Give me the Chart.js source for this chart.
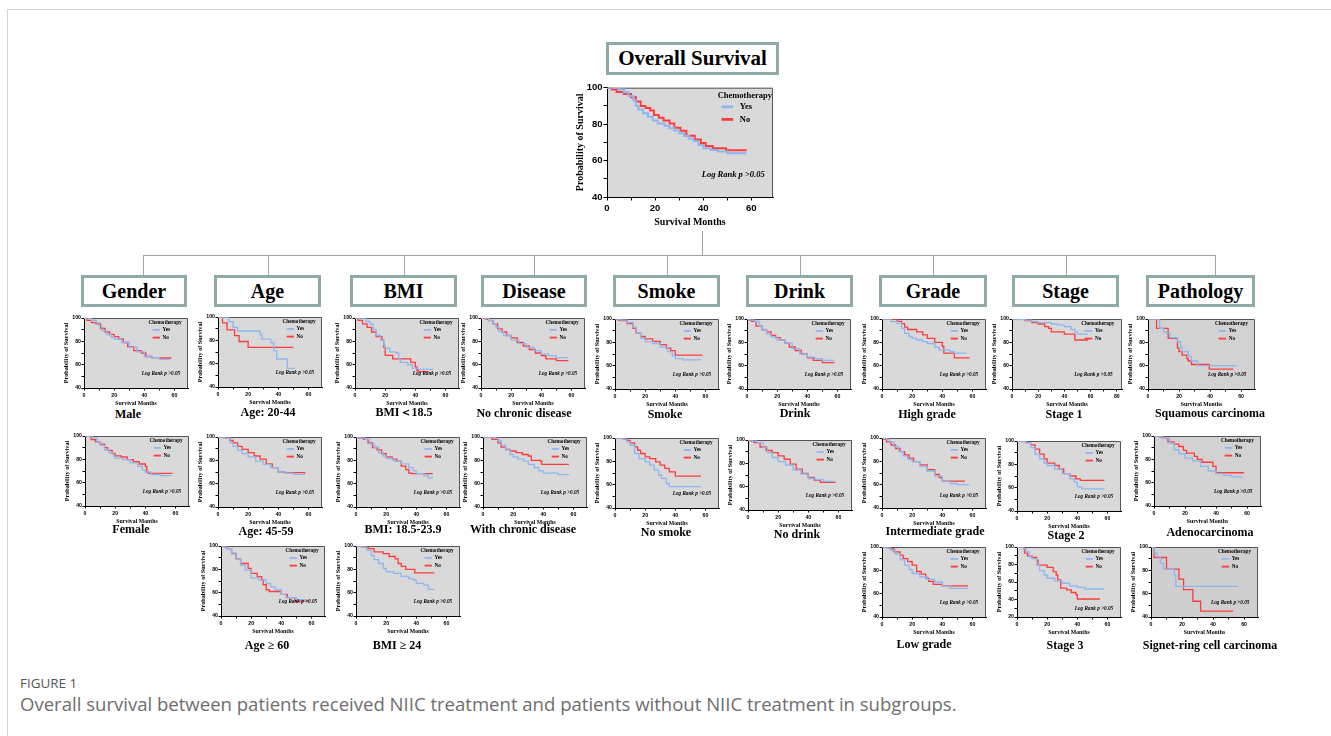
<!DOCTYPE html>
<html>
<head>
<meta charset="utf-8">
<script src="https://cdn.jsdelivr.net/npm/chart.js"></script>
<style>
body{margin:0;width:1331px;height:736px;background:#fff;position:relative;overflow:hidden;font-family:"Liberation Serif","Times New Roman",serif}
#frame{position:absolute;left:7px;top:9px;width:1340px;height:740px;border-left:1px solid #d4d4d4;border-top:1px solid #d4d4d4}
.box{position:absolute;top:275px;height:32px;border:3px solid #8fa9a6;box-sizing:border-box;display:flex;align-items:center;justify-content:center;font-weight:bold;font-size:20px;color:#000;background:#fff}
.sub{position:absolute;transform:translate(-50%,-50%);font-weight:bold;font-size:12px;line-height:1;white-space:nowrap;color:#000}
.ln{position:absolute;background:#a3a3a3}
canvas{position:absolute}
.cap{position:absolute;left:20px;font-family:"Open Sans","Noto Sans",sans-serif;white-space:nowrap;line-height:1}
</style>
</head>
<body>
<div id="frame"></div>
<script>
// survival curves, [month, % surviving]
var overallYes = [[0,100],[5,99],[7,97.5],[9,95.5],[11,93],[12,90],[13,88],[15,86],[17,84],[19,82],[21,80.4],[24,79],[26,77.8],[28,76.5],[30,75],[32,73.5],[34,72],[36,70.6],[38,68.5],[40,66.7],[43,65.8],[46,65],[50,64],[58,64]];
var overallNo = [[0,100],[2,99],[4,97.7],[7,96.5],[10,94.7],[12,92.4],[14,90],[16,88.8],[18,87.5],[19.5,85],[21.5,83.5],[23.5,82],[26,80.4],[28,78],[30.5,76.3],[33,73.6],[36.5,71.5],[39,69.7],[41,68],[44,66.7],[49.5,65.7],[58,65.7]];

var maleYes = [[0,100],[5,98],[8,96],[10,93.4],[12,89],[15,85.7],[18,83.5],[20,82],[25,79],[30,75],[35,71],[40,67],[45,66],[50,64.6],[57,64.6]];
var maleNo = [[0,100],[2,98],[5,96],[8,95],[11,91],[14,88],[17,86],[20,84],[23,82],[26,79],[29,75.4],[33,72],[38,70],[41,67],[45,66],[50,65.7],[58,65.7]];
var femaleYes = [[0,100],[5,98],[8,95],[10,92],[13,88],[16,85.4],[19,82.6],[20,81],[25,79.7],[30,77],[35,74],[38,71],[40,69],[44,67],[50,66],[57,66]];
var femaleNo = [[0,100],[4,97],[7,95],[10,93],[13,90],[15,87.6],[18,85],[20,83],[24,82],[28,79.7],[32,78],[36,76],[40,74],[41,69],[42,68],[58,68]];

var age2044Yes = [[0,100],[7,96],[10,91],[13,88],[28,85],[29,81],[35,78],[37,71],[39,64],[46,56],[51,56]];
var age2044No = [[0,100],[3,95],[6,89],[11,84],[14,79],[20,74],[50,74]];
var age4559Yes = [[0,100],[4,99],[8,95],[10,92],[13,88.6],[16,85.7],[20,83],[25,79.4],[30,76.6],[35,73.7],[40,70],[45,69],[50,68],[58,68]];
var age4559No = [[0,100],[3,99.5],[5,99],[8,97],[10,95],[13,92],[16,89.4],[20,86.6],[24,83.7],[28,81],[32,77],[36,73.7],[40,70],[44,69.5],[58,69.5]];
var age60Yes = [[0,100],[2,99],[4,97.7],[7,94],[10,89],[13,83.6],[16,79.4],[20,72.4],[25,71],[30,68],[33,65],[36,62.5],[40,58.6],[43,55.8],[50,54],[55,52.7],[57,52.7]];
var age60No = [[0,100],[2,99],[4,97.7],[7,93.5],[10,89],[13,85],[18,80.8],[20,76.6],[24,73.8],[27,71],[28,66.8],[30,62.5],[32,61],[40,58.6],[44,55.8],[49,52.7],[58,52.7]];

var bmiLowYes = [[0,100],[7,97],[10,94.7],[12,90],[14,85],[17,81],[19,77],[20,74],[23,71],[27,70],[29,65],[30,62],[35,60],[38,57],[42,56],[52,56]];
var bmiLowNo = [[0,100],[2,98],[5,95],[8,92],[11,88],[14,84],[18,81],[19,75],[20,68],[25,65],[37,62],[40,58],[41,55],[42,54],[49,54]];
var bmiMidYes = [[0,100],[3,99],[6,98],[9,94],[12,91],[15,86.6],[18,83.7],[20,81.7],[25,79.4],[30,77],[35,73.7],[38,71],[40,68.6],[45,67],[48,65],[51,65]];
var bmiMidNo = [[0,100],[2,99],[5,98],[8,95],[11,91],[14,89],[17,85.7],[20,83],[24,81],[27,79.4],[30,75],[33,72],[35,69],[37,68.6],[51,68.6]];
var bmiHighYes = [[0,100],[3,99],[7,96.3],[10,92],[12,88.3],[15,85],[18,80.7],[20,78],[25,76.5],[30,74],[35,72],[38,70.7],[40,68],[45,66.5],[48,62.8],[52,62.8]];
var bmiHighNo = [[0,100],[5,99],[8,97.7],[12,95],[18,93.5],[22,91],[26,89],[28,85],[30,82.6],[33,80],[39,77],[52,77]];

var noDisYes = [[0,100],[5,98],[8,95],[10,92],[12,88.6],[15,85],[20,81],[25,78],[30,75],[35,72],[40,69],[45,67.7],[50,66],[58,66]];
var noDisNo = [[0,100],[3,99],[5,97.7],[8,95],[11,90.6],[14,88],[17,85],[20,83],[24,79],[28,76],[32,73],[36,70],[40,67.7],[43,65],[50,63.4],[58,63.4]];
var withDisYes = [[0,100],[8,99],[10,97],[12,93],[15,89],[18,85],[20,83],[23,81],[27,79.4],[30,76.6],[34,73.7],[37,71],[40,69],[50,67.7],[57,67.7]];
var withDisNo = [[0,100],[6,98],[10,95],[12,91.4],[15,89.4],[18,88],[22,86.6],[26,85],[30,83.7],[32,80],[38,79.4],[39,76.6],[57,76.6]];

var smokeYes = [[0,100],[4,99],[8,97],[12,93],[14,88],[17,83.4],[20,80.6],[25,79],[30,76],[35,72],[38,68.6],[40,66],[45,65],[57,65]];
var smokeNo = [[0,100],[2,99],[4,98.6],[8,96],[12,92],[14,88],[17,85],[20,83],[25,80.9],[30,78],[34,75],[37,72.9],[40,69],[58,69]];
var noSmokeYes = [[0,100],[5,99],[8,96.6],[10,93.8],[13,86.7],[16,82.4],[20,79.6],[23,76.8],[26,72.5],[29,68.3],[31,65.4],[34,61],[36,58.4],[57,58.4]];
var noSmokeNo = [[0,100],[6,99],[8,98],[10,95.8],[13,92.4],[15,89.5],[17,86.7],[20,83.9],[23,82.4],[27,79.6],[30,76.8],[33,73.9],[36,71],[40,67.4],[57,67.4]];

var drinkYes = [[0,100],[2,99],[5,98],[8,94],[10,91],[13,87],[16,84.6],[20,82],[25,79.4],[30,74.6],[35,70],[40,67.4],[45,66],[50,64.6],[58,64.6]];
var drinkNo = [[0,100],[1,99],[3,98],[6,94],[10,90.6],[13,89],[16,86],[19,84],[22,82],[25,79.4],[28,76],[32,73],[36,70],[40,66.6],[44,64.6],[50,62.6],[58,62.6]];
var noDrinkYes = [[0,100],[3,99],[6,97.7],[10,93.5],[13,89.2],[16,85],[20,81.4],[25,78.5],[30,74.3],[35,70.9],[40,67],[45,66],[50,64.5],[58,64.5]];
var noDrinkNo = [[0,100],[2,99],[4,97.7],[8,94],[12,91],[16,89.2],[20,86.4],[24,83.5],[28,79.4],[32,75],[36,71.3],[40,68],[44,65.6],[48,63.6],[58,63.6]];

var highYes = [[0,100],[6,97.7],[10,96],[13,92],[15,87.7],[18,85],[20,83.4],[23,82],[27,80.6],[30,79],[35,75.7],[38,73.4],[45,72],[48,70.7],[56,70.7]];
var highNo = [[0,100],[10,98],[13,96],[15,93],[17,91],[23,89],[27,86.4],[30,83.4],[35,80],[40,76.6],[41,70.7],[48,66.6],[58,66.6]];
var interYes = [[0,100],[3,99],[5,96.7],[8,92.5],[11,88.3],[14,84.6],[17,81.8],[20,79.8],[25,75.7],[30,71.5],[35,67.3],[40,63],[45,61],[50,60],[58,60]];
var interNo = [[0,100],[1,99],[3,96.7],[6,94],[9,91],[12,88.3],[15,85.5],[18,82.7],[21,79.8],[25,77],[30,72.9],[35,68.7],[38,66],[40,63],[55,63]];
var lowYes = [[0,100],[3,99],[6,97],[9,94],[12,89],[15,84.4],[18,80.7],[20,77.3],[25,74.5],[30,72.2],[35,70],[40,66.5],[45,64.6],[57,64.6]];
var lowNo = [[0,100],[4,99.5],[5,98.6],[8,95.8],[12,93],[14,90],[17,87.4],[20,84.4],[23,79],[26,76.7],[29,73.4],[31,70.5],[34,68],[40,66.6],[57,66.6]];

var stage1Yes = [[0,100],[5,99.5],[10,99],[15,97.7],[20,96.9],[30,95.7],[35,94.9],[40,93.4],[45,91],[48,89],[50,87],[58,87]];
var stage1No = [[0,100],[10,98.6],[15,96.9],[20,95.7],[25,93.4],[28,92],[30,89],[40,87],[48,82],[58,82]];
var stage2Yes = [[0,100],[3,99.5],[6,98.6],[9,94.4],[12,88.8],[15,84.6],[18,81],[20,79],[25,76],[30,72],[35,67.6],[38,64.8],[40,60.6],[43,59],[58,59]];
var stage2No = [[0,100],[3,99.5],[6,98.6],[9,96.6],[12,93],[15,88.8],[18,84.6],[20,81],[25,79],[28,76],[31,72],[35,70],[39,67.6],[42,66.2],[58,66.2]];
var stage3Yes = [[0,100],[4,98],[6,94.4],[8,88.7],[10,86.8],[13,79.3],[15,72.9],[18,68],[20,64.3],[25,61.3],[30,58.6],[35,55.6],[40,53.8],[45,52],[58,52]];
var stage3No = [[0,100],[5,93],[7,89.5],[10,88],[13,85],[14,79.3],[20,76.7],[24,71.8],[26,68],[27,62.4],[29,53],[33,51],[36,48],[39,45.5],[40,40.6],[55,40.6]];

var squamYes = [[0,100],[7.5,92],[10,89],[12,88],[14,84],[19,80.5],[21,76.5],[22,72],[26,68],[28,64],[32,60],[57,60]];
var squamNo = [[0,100],[5.5,92],[13,83.5],[19,75],[20,72],[22,69],[25,66],[26,64],[28,61],[39.5,57],[55,57]];
var adenoYes = [[0,100],[3,99],[6,98],[10,93.8],[13,88.2],[16,84.8],[20,81],[25,78.4],[30,74],[35,70],[40,67.7],[45,66.3],[50,65],[57,65]];
var adenoNo = [[0,100],[4,99],[6,98],[9,95],[13,93],[16,91],[19,87.6],[21,85.4],[26,82.6],[28,80],[31,77.5],[38,74],[40,68.5],[58,68.5]];
var signetYes = [[0,100],[2,95],[4,91.5],[6,85.9],[8,80.8],[15,76],[16,66.2],[56,66.2]];
var signetNo = [[0,100],[2,91],[10,81],[18,72.4],[21,63.4],[27,53.5],[32,45],[53,45]];

var groups = ["Gender", "Age", "BMI", "Disease", "Smoke", "Drink", "Grade", "Stage", "Pathology"];
var seriesNames = ["Yes", "No"];

var BLUE = "#8db6f2";
var RED = "#ff3b3b";
var SERIF = '"Liberation Serif", "Times New Roman", serif';
var SANS = '"Liberation Sans", Arial, sans-serif';

var STYLE = {
  main: {tick: 9.5, yTitle: 10, xTitle: 10, leg: 8.5, lw: 2, axisW: 33, axisH: 31, tl: 3.5, yPad: 1, xPad: 2,
         legX: 0.83, lineX0: 0.69, lineX1: 0.76, textX: 0.8, legY: [0.07, 0.175, 0.29], logX: 0.76},
  small: {tick: 5.2, yTitle: 6.2, xTitle: 5.8, leg: 5.2, lw: 1.3, axisW: 21, axisH: 19, tl: 2.5, yPad: 0.5, xPad: 1.5,
         legX: 0.78, lineX0: 0.66, lineX1: 0.73, textX: 0.755, legY: [0.065, 0.17, 0.28], logX: 0.74}
};

var kmDecor = {
  id: "kmDecor",
  beforeDraw: function(chart, args, o){
    var ctx = chart.ctx, a = chart.chartArea;
    ctx.save();
    ctx.fillStyle = o.bg;
    ctx.fillRect(a.left, a.top, a.right - a.left, a.bottom - a.top);
    ctx.strokeStyle = "#555";
    ctx.lineWidth = 1;
    ctx.beginPath();
    ctx.moveTo(a.left, a.top + 0.5);
    ctx.lineTo(a.right - 0.5, a.top + 0.5);
    ctx.lineTo(a.right - 0.5, a.bottom);
    ctx.stroke();
    ctx.restore();
  },
  afterDatasetsDraw: function(chart, args, o){
    var ctx = chart.ctx, a = chart.chartArea, s = o.s;
    var W = a.right - a.left, H = a.bottom - a.top;
    ctx.save();
    ctx.fillStyle = "#000";
    ctx.textBaseline = "middle";
    ctx.font = "bold " + s.leg + "px " + SERIF;
    ctx.textAlign = "center";
    ctx.fillText("Chemotherapy", a.left + W * s.legX, a.top + H * s.legY[0]);
    chart.data.datasets.forEach(function(d, i){
      var y = a.top + H * s.legY[i + 1];
      ctx.strokeStyle = d.borderColor;
      ctx.lineWidth = s.lw * 1.4;
      ctx.beginPath();
      ctx.moveTo(a.left + W * s.lineX0, y);
      ctx.lineTo(a.left + W * s.lineX1, y);
      ctx.stroke();
      ctx.textAlign = "left";
      ctx.fillText(d.label, a.left + W * s.textX, y);
    });
    ctx.font = "italic bold " + s.leg + "px " + SERIF;
    ctx.textAlign = "center";
    ctx.fillText("Log Rank p >0.05", a.left + W * s.logX, a.top + H * (o.logY || 0.8));
    ctx.restore();
  }
};

function range(a, b, st){ var r = []; for (var v = a; v <= b; v += st) r.push(v); return r; }

function km(p){
  var s = p.main ? STYLE.main : STYLE.small;
  var w = p.w || 104, h = p.h || 70;
  var cw = s.axisW + w + 4, ch = h + 4 + s.axisH;
  var cv = document.createElement("canvas");
  cv.width = cw; cv.height = ch;
  cv.style.left = (p.x - s.axisW) + "px";
  cv.style.top = (p.y - 4) + "px";
  cv.style.width = cw + "px"; cv.style.height = ch + "px";
  document.body.appendChild(cv);

  var xMax = p.xMax || 69, yMin = p.yMin || 40;
  var xTicks = range(0, xMax - 4, 10);
  var yTicks = range(yMin, 100, 10);
  var tickFont = {family: SANS, weight: "bold", size: s.tick};

  new Chart(cv, {
    type: "line",
    data: {
      datasets: [p.yes, p.no].map(function(arr, i){
        return {
          label: seriesNames[i],
          data: arr.map(function(q){ return {x: q[0], y: q[1]}; }),
          borderColor: i === 0 ? BLUE : RED,
          borderWidth: s.lw,
          pointRadius: 0,
          stepped: true,
          fill: false
        };
      })
    },
    options: {
      responsive: false,
      animation: false,
      devicePixelRatio: 1,
      layout: {padding: {top: 4, right: 4, left: 0, bottom: 0}},
      plugins: {legend: {display: false}, tooltip: {enabled: false},
                kmDecor: {s: s, bg: p.bg || "#d9d9d9", logY: p.logY}},
      scales: {
        x: {
          type: "linear", min: 0, max: xMax,
          afterFit: function(sc){ sc.height = s.axisH; },
          afterBuildTicks: function(sc){ sc.ticks = xTicks.map(function(v){ return {value: v}; }); },
          grid: {drawOnChartArea: false, tickLength: s.tl, color: "#000"},
          border: {color: "#000", width: 1},
          ticks: {font: tickFont, color: "#000", padding: s.xPad, maxRotation: 0, autoSkip: false,
                  callback: function(v){ return v % 20 === 0 ? v : ""; }},
          title: {display: true, text: "Survival Months", color: "#000", padding: 0,
                  font: {family: SERIF, weight: "bold", size: s.xTitle}}
        },
        y: {
          min: yMin, max: 100,
          afterFit: function(sc){ sc.width = s.axisW; },
          afterBuildTicks: function(sc){ sc.ticks = yTicks.map(function(v){ return {value: v}; }); },
          grid: {drawOnChartArea: false, tickLength: s.tl, color: "#000"},
          border: {color: "#000", width: 1},
          ticks: {font: tickFont, color: "#000", padding: s.yPad, autoSkip: false,
                  callback: function(v){ return v % 20 === 0 ? v : ""; }},
          title: {display: true, text: "Probability of Survival", color: "#000", padding: 0,
                  font: {family: SERIF, weight: "bold", size: s.yTitle}}
        }
      }
    },
    plugins: [kmDecor]
  });
}

function el(cls, css, text){
  var d = document.createElement("div");
  d.className = cls;
  for (var k in css) d.style[k] = css[k];
  if (text) d.textContent = text;
  document.body.appendChild(d);
  return d;
}

// tree lines
el("ln", {left: "702px", top: "231px", width: "1px", height: "24px"});
el("ln", {left: "143px", top: "255px", width: "1073px", height: "1px"});
[143, 268, 404, 534, 667, 800, 933, 1066, 1215].forEach(function(x){
  el("ln", {left: x + "px", top: "255px", width: "1px", height: "20px"});
});

// title boxes
el("box", {left: "606px", top: "42px", width: "173px", height: "33px", fontSize: "21px"}, "Overall Survival");
var boxX = [81, 214, 350, 481, 613, 746, 879, 1012, 1146];
var boxW = [106, 107, 107, 106, 107, 107, 108, 107, 109];
groups.forEach(function(g, i){
  el("box", {left: boxX[i] + "px", width: boxW[i] + "px"}, g);
});

// charts
km({main: true, x: 607, y: 85, w: 166, h: 112, yes: overallYes, no: overallNo});

var panels = [
  {x: 84, y: 318, yes: maleYes, no: maleNo, t: "Male", tx: 128, ty: 414},
  {x: 218, y: 317, yes: age2044Yes, no: age2044No, t: "Age: 20-44", tx: 268, ty: 412},
  {x: 355, y: 318, yes: bmiLowYes, no: bmiLowNo, t: "BMI\uFF1C18.5", tx: 404, ty: 412},
  {x: 481, y: 318, yes: noDisYes, no: noDisNo, t: "No chronic disease", tx: 524, ty: 413},
  {x: 615, y: 319, yes: smokeYes, no: smokeNo, t: "Smoke", tx: 665, ty: 414},
  {x: 747, y: 319, yes: drinkYes, no: drinkNo, t: "Drink", tx: 795, ty: 413},
  {x: 882, y: 319, yes: highYes, no: highNo, t: "High grade", tx: 927, ty: 414},
  {x: 1012, y: 319, w: 110, xMax: 84, yes: stage1Yes, no: stage1No, t: "Stage 1", tx: 1064, ty: 414},
  {x: 1148, y: 319, w: 107, bg: "#d2d2d2", yes: squamYes, no: squamNo, t: "Squamous carcinoma", tx: 1210, ty: 413},
  {x: 85, y: 436, yes: femaleYes, no: femaleNo, t: "Female", tx: 131, ty: 529},
  {x: 218, y: 437, yes: age4559Yes, no: age4559No, t: "Age: 45-59", tx: 266, ty: 531},
  {x: 356, y: 437, yes: bmiMidYes, no: bmiMidNo, t: "BMI: 18.5-23.9", tx: 403, ty: 529},
  {x: 483, y: 437, yes: withDisYes, no: withDisNo, t: "With chronic disease", tx: 523, ty: 529},
  {x: 615, y: 438, yes: noSmokeYes, no: noSmokeNo, t: "No smoke", tx: 666, ty: 532},
  {x: 748, y: 440, yes: noDrinkYes, no: noDrinkNo, t: "No drink", tx: 797, ty: 534},
  {x: 882, y: 438, yes: interYes, no: interNo, t: "Intermediate grade", tx: 935, ty: 531, logY: 0.83},
  {x: 1017, y: 441, yes: stage2Yes, no: stage2No, t: "Stage 2", tx: 1066, ty: 535},
  {x: 1154, y: 436, w: 107, bg: "#d2d2d2", yes: adenoYes, no: adenoNo, t: "Adenocarcinoma", tx: 1210, ty: 532},
  {x: 221, y: 546, yes: age60Yes, no: age60No, t: "Age \u2265 60", tx: 267, ty: 645},
  {x: 356, y: 546, yes: bmiHighYes, no: bmiHighNo, t: "BMI \u2265 24", tx: 397, ty: 645},
  {x: 882, y: 547, yes: lowYes, no: lowNo, t: "Low grade", tx: 924, ty: 644},
  {x: 1017, y: 547, yMin: 20, yes: stage3Yes, no: stage3No, t: "Stage 3", tx: 1065, ty: 645, logY: 0.88},
  {x: 1151, y: 547, w: 107, bg: "#cfcfcf", yes: signetYes, no: signetNo, t: "Signet-ring cell carcinoma", tx: 1210, ty: 645}
];

panels.forEach(function(p){
  km(p);
  el("sub", {left: p.tx + "px", top: p.ty + "px"}, p.t);
});

// caption, stretched to the printed width
var c1 = el("cap", {top: "677px", fontSize: "12px", color: "#555"}, "FIGURE 1");
var c2 = el("cap", {top: "695px", fontSize: "16px", color: "#6e6e6e"},
  "Overall survival between patients received NIIC treatment and patients without NIIC treatment in subgroups.");
c1.style.fontSize = (12 * 57 / c1.offsetWidth) + "px";
c2.style.fontSize = (16 * 937 / c2.offsetWidth) + "px";
</script>
</body>
</html>
